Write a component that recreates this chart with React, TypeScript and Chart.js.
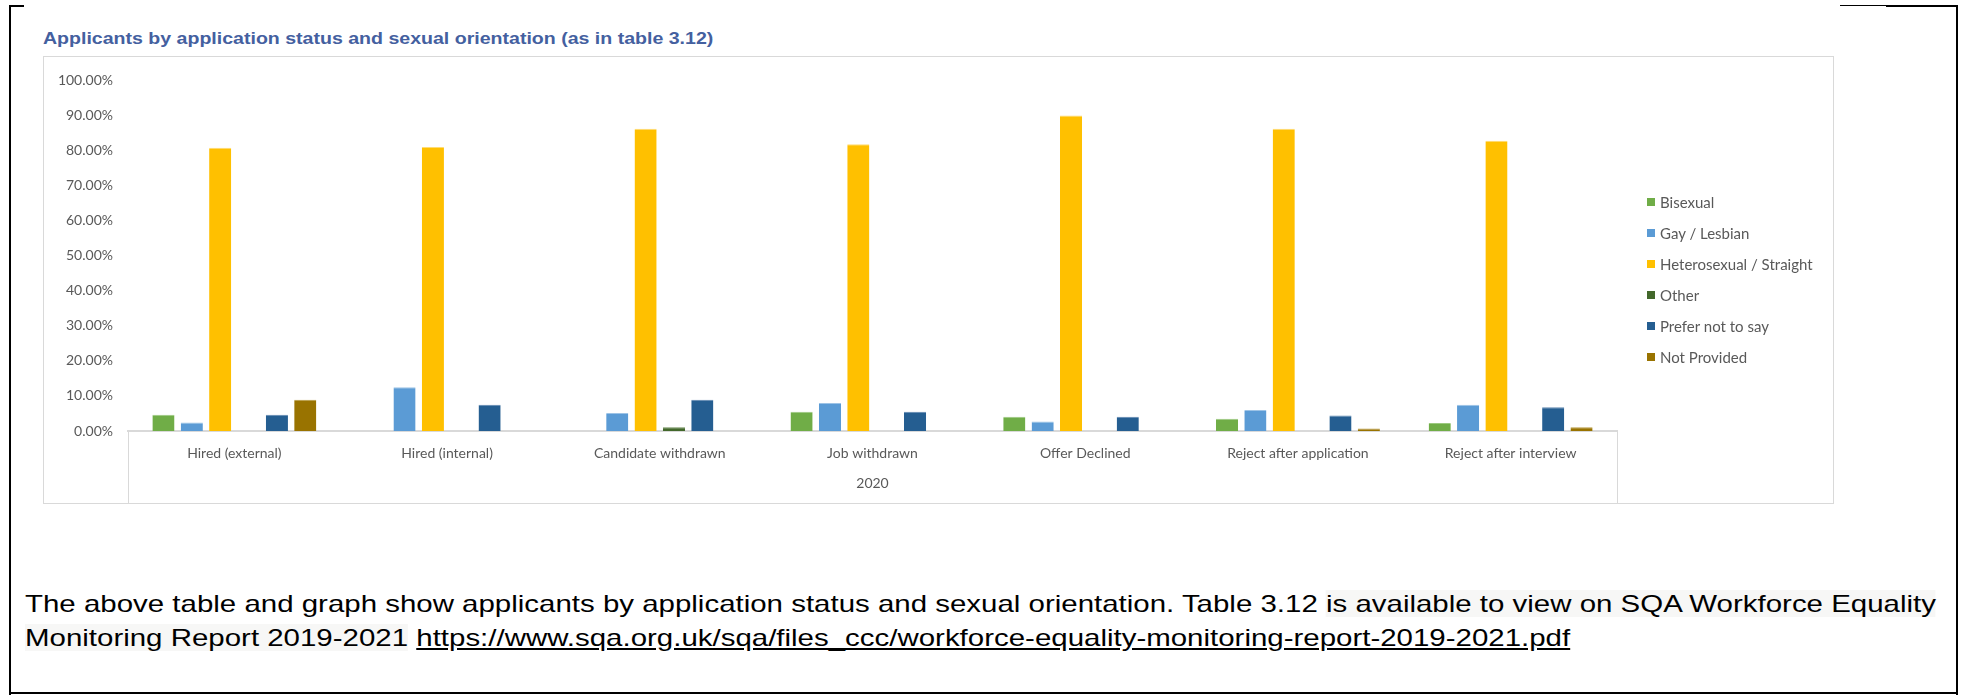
import React, { useEffect, useRef } from "react";
import { Chart, registerables } from "chart.js";

Chart.register(...registerables);

// ---- Data ----
const chartTitle = "Applicants by application status and sexual orientation (as in table 3.12)";
const categories = [
  "Hired (external)",
  "Hired (internal)",
  "Candidate withdrawn",
  "Job withdrawn",
  "Offer Declined",
  "Reject after application",
  "Reject after interview",
];
const groupLabel = "2020";
const seriesNames = [
  "Bisexual",
  "Gay / Lesbian",
  "Heterosexual / Straight",
  "Other",
  "Prefer not to say",
  "Not Provided",
];
const bisexual = [4.6, 0, 0, 5.5, 4.1, 3.5, 2.3];
const gayLesbian = [2.4, 12.5, 5.1, 8.0, 2.7, 6.0, 7.5];
const heterosexual = [80.8, 81.0, 86.2, 81.8, 90.0, 86.2, 82.8];
const other = [0, 0, 1.1, 0, 0, 0, 0];
const preferNotToSay = [4.6, 7.5, 8.9, 5.5, 4.1, 4.4, 6.8];
const notProvided = [8.9, 0, 0, 0, 0, 0.7, 1.1];
const seriesValues = [bisexual, gayLesbian, heterosexual, other, preferNotToSay, notProvided];
const seriesColors = ["#70AD47", "#5B9BD5", "#FFC000", "#43682B", "#255E91", "#997300"];
const seriesEdge = ["#9CC97F", "#9DC3E6", "#FFDC73", "#6E8F58", "#5E87B0", "#B89A40"];
const yMin = 0;
const yMax = 100;
const yStep = 10;

const paragraphLine1a = "The above table and graph show applicants by application status and sexual orientation. Table 3.12 ";
const paragraphLine1b = "is available to view on SQA Workforce Equality";
const paragraphLine2a = "Monitoring Report 2019-2021";
const linkText = "https://www.sqa.org.uk/sqa/files_ccc/workforce-equality-monitoring-report-2019-2021.pdf";

const chartFont = "Lato, 'Open Sans', sans-serif";
const textGray = "#595959";

const groupAxisPlugin = {
  id: "groupAxis",
  afterDraw(chart: any) {
    const { ctx, chartArea, scales } = chart;
    const x = scales.x;
    ctx.save();
    ctx.strokeStyle = "#D9D9D9";
    ctx.lineWidth = 1;
    [x.left, x.right].forEach((px: number) => {
      const p = Math.round(px) + 0.5;
      ctx.beginPath();
      ctx.moveTo(p, chartArea.bottom);
      ctx.lineTo(p, chart.height);
      ctx.stroke();
    });
    ctx.fillStyle = textGray;
    ctx.font = `14px ${chartFont}`;
    ctx.textAlign = "center";
    ctx.textBaseline = "middle";
    ctx.fillText(groupLabel, (x.left + x.right) / 2, chartArea.bottom + 52);
    ctx.restore();
  },
};

function BarChart() {
  const ref = useRef<HTMLCanvasElement | null>(null);
  useEffect(() => {
    if (!ref.current) return;
    const chart = new Chart(ref.current, {
      type: "bar",
      data: {
        labels: categories,
        datasets: seriesNames.map((name, i) => ({
          label: name,
          data: seriesValues[i],
          backgroundColor: seriesColors[i],
          borderColor: seriesEdge[i],
          borderWidth: { top: 1, left: 0, right: 0, bottom: 0 },
          borderSkipped: "bottom",
          categoryPercentage: 0.8,
          barPercentage: 0.78,
        })),
      },
      options: {
        animation: false,
        responsive: true,
        maintainAspectRatio: false,
        layout: { padding: { left: 0, top: 22, right: 216, bottom: 0 } },
        plugins: {
          legend: { display: false },
          title: { display: false },
          tooltip: { enabled: false },
        },
        scales: {
          x: {
            grid: { display: false, drawTicks: false },
            border: { display: true, color: "#D9D9D9", width: 2 },
            ticks: {
              color: textGray,
              font: { family: chartFont, size: 14 },
              padding: 14,
              maxRotation: 0,
              autoSkip: false,
            },
            afterFit: (scale: any) => {
              scale.height = 72;
            },
          },
          y: {
            min: yMin,
            max: yMax,
            grid: { display: false, drawTicks: false },
            border: { display: false },
            ticks: {
              stepSize: yStep,
              color: textGray,
              font: { family: chartFont, size: 14 },
              padding: 15,
              callback: (v: any) => Number(v).toFixed(2) + "%",
            },
            afterFit: (scale: any) => {
              scale.width = 84;
            },
          },
        },
      },
      plugins: [groupAxisPlugin],
    });
    return () => chart.destroy();
  }, []);
  return <canvas ref={ref} />;
}

export default function App() {
  const line = (style: React.CSSProperties): React.CSSProperties => ({
    position: "absolute",
    background: "#000",
    ...style,
  });
  const hl = "#F7F7F6";
  const para: React.CSSProperties = {
    position: "absolute",
    left: 25,
    lineHeight: "36px",
    fontSize: 24,
    color: "#000",
    whiteSpace: "nowrap",
    transform: "scaleX(1.227)",
    transformOrigin: "0 50%",
  };
  return (
    <div
      style={{
        position: "fixed",
        left: 0,
        top: 0,
        width: 1966,
        height: 695,
        background: "#fff",
        overflow: "hidden",
        fontFamily: "'Liberation Sans', Arial, sans-serif",
      }}
    >
      {/* document table-cell borders */}
      <div style={line({ left: 9, top: 5, width: 2, height: 690 })} />
      <div style={line({ left: 9, top: 5, width: 15, height: 2 })} />
      <div style={line({ left: 1840, top: 5, width: 46, height: 1 })} />
      <div style={line({ left: 1886, top: 5, width: 72, height: 2 })} />
      <div style={line({ left: 1956, top: 5, width: 2, height: 690 })} />
      <div style={line({ left: 9, top: 692, width: 1949, height: 2 })} />

      {/* chart title */}
      <div
        style={{
          position: "absolute",
          left: 43,
          top: 29,
          lineHeight: "20px",
          fontSize: 17,
          fontWeight: "bold",
          color: "#44609F",
          whiteSpace: "nowrap",
          transform: "scaleX(1.15)",
          transformOrigin: "0 50%",
        }}
      >
        {chartTitle}
      </div>

      {/* chart box */}
      <div
        style={{
          position: "absolute",
          left: 43,
          top: 56,
          width: 1789,
          height: 446,
          border: "1px solid #D9D9D9",
        }}
      >
        <div style={{ position: "absolute", left: 0, top: 0, width: 1789, height: 446 }}>
          <BarChart />
        </div>
        {/* legend */}
        {seriesNames.map((name, i) => (
          <div
            key={name}
            style={{
              position: "absolute",
              left: 1647 - 44,
              top: 194 - 57 + i * 31,
              height: 16,
              display: "flex",
              alignItems: "center",
              whiteSpace: "nowrap",
              fontFamily: chartFont,
              fontSize: 15,
              color: textGray,
            }}
          >
            <span
              style={{
                display: "inline-block",
                width: 8,
                height: 8,
                background: seriesColors[i],
                marginRight: 5,
              }}
            />
            <span>{name}</span>
          </div>
        ))}
      </div>

      {/* paragraph */}
      <div style={{ ...para, top: 586 }}>
        {paragraphLine1a}
        <span style={{ background: hl }}>{paragraphLine1b}</span>
      </div>
      <div style={{ ...para, top: 620 }}>
        <span style={{ background: hl }}>{paragraphLine2a}</span>{" "}
        <span style={{ textDecoration: "underline", color: "#000" }}>{linkText}</span>
      </div>
    </div>
  );
}
